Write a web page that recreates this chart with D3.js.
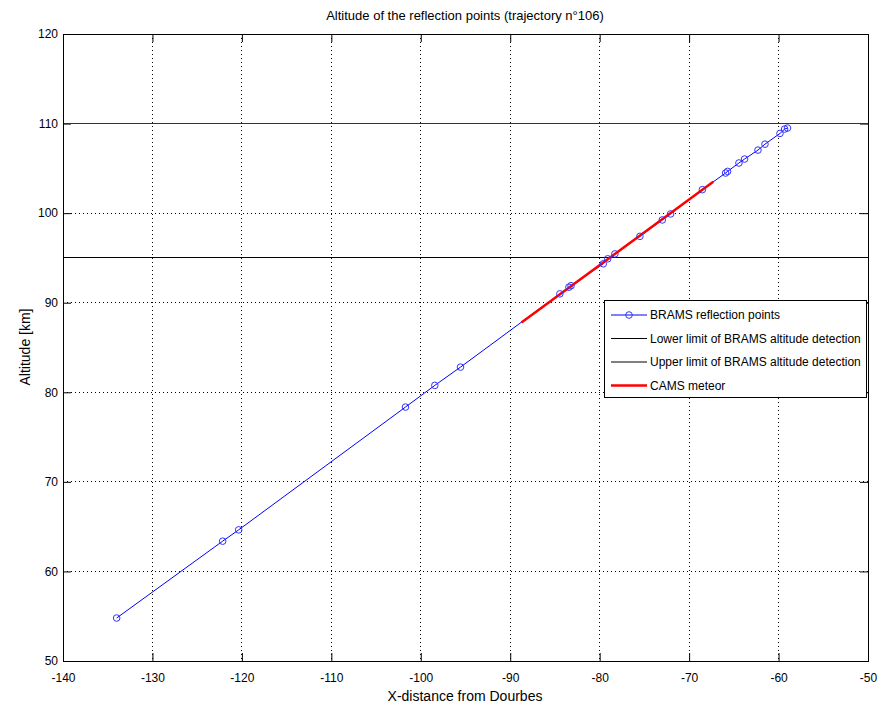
<!DOCTYPE html>
<html><head><meta charset="utf-8">
<script src="https://cdn.jsdelivr.net/npm/d3@7"></script>
<style>body{margin:0;background:#fff}svg{display:block}text{font-family:"Liberation Sans",Arial,sans-serif}</style>
</head><body>
<svg id="c" width="886" height="708"></svg>
<script>
const bramsX = [-134.0,-122.15,-120.36,-101.71,-98.43,-95.56,-84.45,-83.44,-83.2,-79.6,-79.1,-78.3,-75.5,-73.0,-72.07,-68.52,-65.92,-65.7,-64.43,-63.8,-62.3,-61.52,-59.84,-59.32,-59.0];
const bramsY = [54.8,63.38,64.64,78.35,80.77,82.81,90.99,91.73,91.9,94.34,94.9,95.45,97.41,99.24,99.91,102.62,104.48,104.66,105.6,106.04,107.04,107.7,108.9,109.39,109.5];
const camsX = [-88.74,-67.3];
const camsY = [87.79,103.5];
const lowerLimit = 95, upperLimit = 110;
const xTicks = [-140,-130,-120,-110,-100,-90,-80,-70,-60,-50];
const yTicks = [50,60,70,80,90,100,110,120];
const legendLabels = ["BRAMS reflection points","Lower limit of BRAMS altitude detection","Upper limit of BRAMS altitude detection","CAMS meteor"];

const svg = d3.select("#c");
const L=63,R=868,T=34,B=661;
const x = d3.scaleLinear().domain([-140,-50]).range([L,R]);
const y = d3.scaleLinear().domain([50,120]).range([B,T]);
const tl = 8;
const fmt = d => String(d);

// grid
const g = svg.append("g");
g.selectAll(".gx").data(xTicks.slice(1,-1)).join("line")
 .attr("x1",d=>x(d)).attr("x2",d=>x(d)).attr("y1",T).attr("y2",B)
 .attr("stroke","#000").attr("stroke-width",1).attr("stroke-dasharray","1,3").attr("shape-rendering","crispEdges");
g.selectAll(".gy").data(yTicks.slice(1,-1)).join("line")
 .attr("y1",d=>y(d)).attr("y2",d=>y(d)).attr("x1",L).attr("x2",R)
 .attr("stroke","#000").attr("stroke-width",1).attr("stroke-dasharray","1,3").attr("shape-rendering","crispEdges");

// axes with inside ticks
const ax = d3.axisBottom(x).tickValues(xTicks).tickFormat(fmt).tickSizeInner(-tl).tickSizeOuter(0).tickPadding(12);
const ay = d3.axisLeft(y).tickValues(yTicks).tickFormat(fmt).tickSizeInner(-tl).tickSizeOuter(0).tickPadding(12);
const axT = d3.axisTop(x).tickValues(xTicks).tickSizeInner(-tl).tickSizeOuter(0).tickFormat("");
const ayR = d3.axisRight(y).tickValues(yTicks).tickSizeInner(-tl).tickSizeOuter(0).tickFormat("");
function style(sel){
  sel.select(".domain").remove();
  sel.selectAll("line").attr("stroke","#000");
  sel.selectAll("text").attr("font-size","12px").attr("fill","#000").attr("font-family",'"Liberation Sans",Arial,sans-serif');
}
svg.append("g").attr("transform",`translate(0,${B})`).call(ax).call(style);
svg.append("g").attr("transform",`translate(${L},0)`).call(ay).call(style)
  .selectAll("text").attr("x",-5);
svg.append("g").attr("transform",`translate(0,${T})`).call(axT).call(style);
svg.append("g").attr("transform",`translate(${R},0)`).call(ayR).call(style);

// limits
svg.append("line").attr("x1",L).attr("x2",R).attr("y1",y(lowerLimit)).attr("y2",y(lowerLimit)).attr("stroke","#000").attr("shape-rendering","crispEdges");
svg.append("line").attr("x1",L).attr("x2",R).attr("y1",y(upperLimit)).attr("y2",y(upperLimit)).attr("stroke","#333").attr("shape-rendering","crispEdges");

// brams line
const bramsPts = bramsX.map((v,i)=>[v,bramsY[i]]);
const line = d3.line().x(d=>x(d[0])).y(d=>y(d[1]));
svg.append("path").datum(bramsPts).attr("d",line).attr("fill","none").attr("stroke","#0000ff").attr("stroke-width",1);
// cams
const camsPts = camsX.map((v,i)=>[v,camsY[i]]);
svg.append("path").datum(camsPts).attr("d",line).attr("fill","none").attr("stroke","#ff0000").attr("stroke-width",2.5);
// markers
svg.selectAll(".m").data(bramsPts).join("circle").attr("cx",d=>x(d[0])).attr("cy",d=>y(d[1])).attr("r",3.3)
 .attr("fill","none").attr("stroke","#3333ff").attr("stroke-width",1);

// box
svg.append("rect").attr("x",L).attr("y",T).attr("width",R-L).attr("height",B-T).attr("fill","none").attr("stroke","#000").attr("shape-rendering","crispEdges");

// legend
const lg = svg.append("g");
lg.append("rect").attr("x",604).attr("y",300).attr("width",262).attr("height",97).attr("fill","#fff").attr("stroke","#000").attr("shape-rendering","crispEdges");
const lcol=["#0000ff","#000","#000","#ff0000"], lw=[1,1,1,2.5];
legendLabels.forEach((t,i)=>{
  const yy=315+i*23.5;
  lg.append("line").attr("x1",611).attr("x2",647).attr("y1",yy).attr("y2",yy).attr("stroke",lcol[i]).attr("stroke-width",lw[i]);
  if(i===0) lg.append("circle").attr("cx",629).attr("cy",yy).attr("r",3.3).attr("fill","none").attr("stroke","#3333ff");
  lg.append("text").attr("x",650).attr("y",yy+4).attr("font-size","12px").text(t);
});

// titles
svg.append("text").attr("x",465).attr("y",20).attr("text-anchor","middle").attr("font-size","13px").text("Altitude of the reflection points (trajectory n°106)");
svg.append("text").attr("x",465).attr("y",701).attr("text-anchor","middle").attr("font-size","14px").text("X-distance from Dourbes");
svg.append("text").attr("transform","translate(30,347) rotate(-90)").attr("text-anchor","middle").attr("font-size","14px").text("Altitude [km]");
</script>
</body></html>
